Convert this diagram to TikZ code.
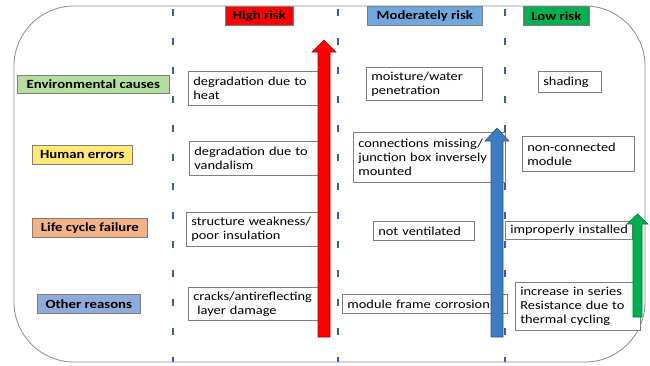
\documentclass[tikz,border=0pt]{standalone}
\usepackage{fontspec}
\setmainfont{Carlito}[FakeStretch=1.18]
\definecolor{framegray}{HTML}{8C8C8C}
\definecolor{boxgray}{HTML}{7F7F7F}
\definecolor{dashblue}{HTML}{3F5F91}
\definecolor{hired}{HTML}{FF0000}
\definecolor{modblue}{HTML}{6FA8E0}
\definecolor{lowgreen}{HTML}{00B050}
\definecolor{envgreen}{HTML}{B4DE9C}
\definecolor{humyellow}{HTML}{FFE873}
\definecolor{lifeorange}{HTML}{F4B183}
\definecolor{othblue}{HTML}{8FAADC}
\definecolor{arrblue}{HTML}{3D7CC4}
\newcommand{\oneline}[1]{\mbox{#1}}
\tikzset{
  cell/.style={draw=boxgray, line width=0.7pt, fill=white, align=left, anchor=north west,
    inner xsep=5pt, inner ysep=1pt, font=\fontsize{12.2}{14}\selectfont},
  cat/.style={draw=boxgray, line width=0.7pt, anchor=north west, inner sep=0pt,
    font=\fontsize{12.5}{14}\selectfont\bfseries, align=center},
  head/.style={draw=boxgray, line width=0.7pt, anchor=north west, inner sep=0pt,
    font=\fontsize{12.5}{14}\selectfont\bfseries, align=center},
  divider/.style={dashblue, line width=2.6pt, dash pattern=on 7pt off 22pt},
  blockarrow/.style={line width=0.6pt}
}
\begin{document}
\begin{tikzpicture}[x=1pt,y=-1pt]
\useasboundingbox (0,0) rectangle (650,365);
% outer frame
\draw[framegray, line width=0.8pt, rounded corners=60pt] (14,6) rectangle (645,362);
% dividers
\coordinate (d1t) at (173,9); \coordinate (d1b) at (173,362);
\coordinate (d2t) at (338,9); \coordinate (d2b) at (338,362);
\coordinate (d3t) at (505,9); \coordinate (d3b) at (505,362);
\draw[divider] (d1t) -- (d1b);
\draw[divider] (d2t) -- (d2b);
\draw[divider] (d3t) -- (d3b);
% headers
\node[head, fill=hired, minimum width=68pt, minimum height=19pt] (hhigh) at (225,6) {High risk};
\node[head, fill=modblue, minimum width=115pt, minimum height=19pt] (hmod) at (367,6) {Moderately risk};
\node[head, fill=lowgreen, minimum width=66pt, minimum height=19pt] (hlow) at (523,6) {Low risk};
% categories
\node[cat, fill=envgreen, minimum width=152pt, minimum height=18pt] (cenv) at (17,75) {Environmental causes};
\node[cat, fill=humyellow, minimum width=100pt, minimum height=19pt] (chum) at (32,145) {Human errors};
\node[cat, fill=lifeorange, minimum width=115pt, minimum height=19pt] (clife) at (32,218) {Life cycle failure};
\node[cat, fill=othblue, minimum width=103pt, minimum height=19pt] (coth) at (37,294) {Other reasons};
% high risk cells
\node[cell, text width=120pt, minimum height=34pt] (h1) at (188,71) {\oneline{degradation due to}\\\oneline{heat}};
\node[cell, text width=119pt, minimum height=34pt] (h2) at (189,141) {\oneline{degradation due to}\\\oneline{vandalism}};
\node[cell, text width=122pt, minimum height=34pt] (h3) at (186,212) {\oneline{structure weakness/}\\\oneline{poor insulation}};
\node[cell, text width=120pt, minimum height=33pt] (h4) at (188,287) {\oneline{cracks/antireflecting}\\\oneline{\ layer damage}};
% moderate cells
\node[cell, text width=106pt, minimum height=33pt] (m1) at (366,67) {\oneline{moisture/water}\\\oneline{penetration}};
\node[cell, text width=142pt, minimum height=50pt] (m2) at (353,132) {\oneline{connections missing/}\\\oneline{junction box inversely}\\\oneline{mounted}};
\node[cell, text width=91pt, minimum height=19pt] (m3) at (373,221) {\oneline{not ventilated}};
\node[cell, text width=155pt, minimum height=19pt] (m4) at (342,294) {\oneline{module frame corrosion}};
% low cells
\node[cell, text width=53pt, minimum height=21pt] (l1) at (538,71) {\oneline{shading}};
\node[cell, text width=102pt, minimum height=35pt] (l2) at (522,136) {\oneline{non-connected}\\\oneline{module}};
\node[cell, text width=117pt, minimum height=18pt] (l3) at (505,221) {\oneline{improperly installed}};
\node[cell, text width=115pt, minimum height=48pt] (l4) at (515,282) {\oneline{increase in series}\\\oneline{Resistance due to}\\\oneline{thermal cycling}};
% block arrows
\coordinate (rtip) at (324,40);
\fill[hired, draw=red!70!black, blockarrow] (318,337) -- (318,52) -- (312,52) -- (rtip) -- (336,52) -- (330,52) -- (330,337) -- cycle;
\coordinate (btip) at (497,128);
\fill[arrblue, draw=arrblue!70!black, blockarrow] (491,337) -- (491,141) -- (485,141) -- (btip) -- (509,141) -- (503,141) -- (503,337) -- cycle;
\coordinate (gtip) at (637.5,214);
\fill[lowgreen, draw=lowgreen!70!black, blockarrow] (633,317) -- (633,224) -- (627,224) -- (gtip) -- (648,224) -- (642,224) -- (642,317) -- cycle;
\end{tikzpicture}
\end{document}
